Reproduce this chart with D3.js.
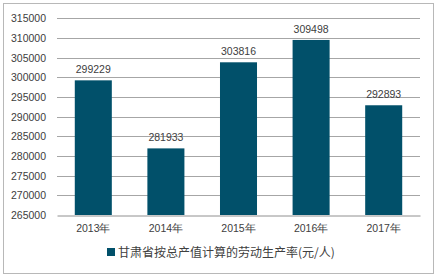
<!DOCTYPE html>
<html>
<head>
<meta charset="utf-8">
<script src="https://cdn.jsdelivr.net/npm/d3@7"></script>
<style>
	body { margin: 0; background: #fff; }
	svg { display: block; font-family: "Liberation Sans", Arial, sans-serif; }
</style>
</head>
<body>
<div id="chart"></div>
<script>
// 数据
const years = ['2013年', '2014年', '2015年', '2016年', '2017年'];
const values = [299229, 281933, 303816, 309498, 292893];
const yTicks = [265000, 270000, 275000, 280000, 285000, 290000, 295000, 300000, 305000, 310000, 315000];
const seriesName = '甘肃省按总产值计算的劳动生产率(元/人)';

const W = 441, H = 279;
const plotLeft = 57, plotRight = 420, plotTop = 18.3, plotBottom = 215;
const barColor = '#01506A';
const textColor = '#404040';

let svg = d3.select('#chart').append('svg')
	.attr('width', W)
	.attr('height', H);

// 外框
svg.append('rect')
	.attr('x', 3.5).attr('y', 3.5)
	.attr('width', 430).attr('height', 270)
	.attr('fill', '#fff')
	.attr('stroke', '#b8b8b8')
	.attr('stroke-width', 1);

let x = d3.scaleBand()
	.domain(years)
	.range([plotLeft, plotRight])
	.paddingInner(0.49)
	.paddingOuter(0.245);

let y = d3.scaleLinear()
	.domain([265000, 315000])
	.range([plotBottom, plotTop]);

// 网格线
svg.append('g')
	.selectAll('line')
	.data(yTicks.slice(1))
	.join('line')
	.attr('x1', plotLeft).attr('x2', plotRight)
	.attr('y1', (d) => {return Math.round(y(d)) + 0.5;})
	.attr('y2', (d) => {return Math.round(y(d)) + 0.5;})
	.attr('stroke', '#a6a6a6')
	.attr('stroke-width', 1);

// 纵轴
let yAxis = svg.append('g')
	.attr('transform', `translate(${plotLeft},0)`)
	.call(d3.axisLeft(y).tickValues(yTicks).tickSize(0).tickPadding(11).tickFormat(d3.format('d')));
yAxis.select('.domain').remove();
yAxis.selectAll('text')
	.attr('fill', textColor)
	.style('font-size', '10.5px');

// 柱子
svg.append('g')
	.selectAll('rect')
	.data(values)
	.join('rect')
	.attr('x', (d, i) => {return x(years[i]);})
	.attr('y', (d) => {return y(d);})
	.attr('width', x.bandwidth())
	.attr('height', (d) => {return plotBottom - y(d);})
	.attr('fill', barColor);

// 数值标签
svg.append('g')
	.selectAll('text')
	.data(values)
	.join('text')
	.attr('x', (d, i) => {return x(years[i]) + x.bandwidth() / 2;})
	.attr('y', (d) => {return y(d) - 7;})
	.attr('text-anchor', 'middle')
	.attr('fill', textColor)
	.style('font-size', '10.5px')
	.text((d) => {return d;});

// 横轴
let xAxis = svg.append('g')
	.attr('transform', `translate(0,${Math.round(plotBottom) + 0.5})`)
	.call(d3.axisBottom(x).tickSize(0).tickPadding(9));
xAxis.select('.domain')
	.attr('stroke', '#909090');
xAxis.selectAll('text')
	.attr('fill', textColor)
	.style('font-size', '10.5px');

// 图例
svg.append('rect')
	.attr('x', 107).attr('y', 248)
	.attr('width', 8).attr('height', 8)
	.attr('fill', barColor);
svg.append('text')
	.attr('x', 118).attr('y', 256.5)
	.attr('fill', textColor)
	.style('font-size', '12px')
	.style('font-family', '"Noto Sans CJK SC", sans-serif')
	.text(seriesName);
</script>
</body>
</html>
